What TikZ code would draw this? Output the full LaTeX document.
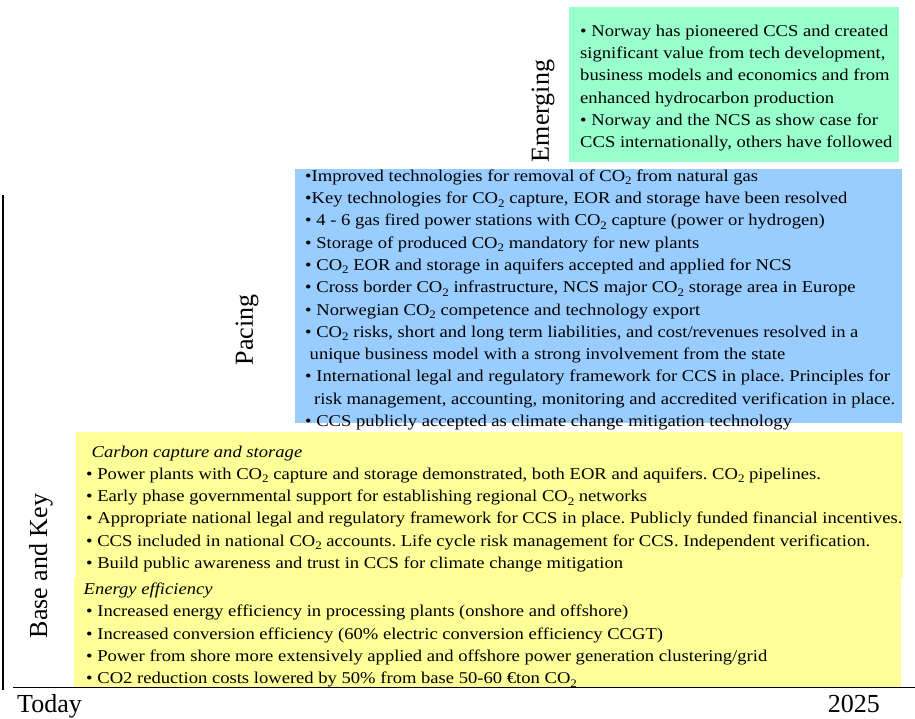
\documentclass[tikz,border=0pt]{standalone}
\usepackage{fontspec}
\setmainfont{Liberation Serif}
\newfontfamily\widserif{Liberation Serif}[FakeStretch=1.127]
\usetikzlibrary{positioning}
\definecolor{emerggreen}{HTML}{99FFCC}
\definecolor{pacingblue}{HTML}{99CCFF}
\definecolor{baseyellow}{HTML}{FFFF99}
\newcommand{\cotwo}{CO\raisebox{-3.5pt}{\fontsize{11.5}{12}\selectfont 2}}
\frenchspacing

\begin{document}
\begin{tikzpicture}[x=1pt, y=-1pt,
    box/.style={anchor=north west, inner sep=0pt, outer sep=0pt},
    bodytext/.style={anchor=north west, inner sep=0pt, align=left,
      font=\widserif\fontsize{16.5}{22.3}\selectfont},
    phase/.style={rotate=90, inner sep=0pt, font=\fontsize{26}{30}\selectfont},
    axislabel/.style={inner sep=0pt, font=\fontsize{26}{30}\selectfont}]
  \useasboundingbox (0,0) rectangle (915,718);

  % coloured boxes
  \node[box, fill=emerggreen, minimum width=330pt, minimum height=155pt] (emergbox) at (569,7) {};
  \node[box, fill=pacingblue, minimum width=607pt, minimum height=254pt] (pacebox) at (295,169) {};
  \node[box, fill=baseyellow, minimum width=827pt, minimum height=146pt] (ccsbox) at (76,432) {};
  \node[box, fill=baseyellow, minimum width=827pt, minimum height=109pt] (effbox) at (74,578) {};

  % emerging
  \node[bodytext] (emergtext) at (580,24.7) {%
    • Norway has pioneered CCS and created\\
    significant value from tech development,\\
    business models and economics and from\\
    enhanced hydrocarbon production\\
    • Norway and the NCS as show case for\\
    CCS internationally, others have followed};

  % pacing
  \node[bodytext] (pacetext) at (305,169.4) {%
    •Improved technologies for removal of \cotwo{} from natural gas\\
    •Key technologies for \cotwo{} capture, EOR and storage have been resolved\\
    • 4 - 6 gas fired power stations with \cotwo{} capture (power or hydrogen)\\
    • Storage of produced \cotwo{} mandatory for new plants\\
    • \cotwo{} EOR and storage in aquifers accepted and applied for NCS\\
    • Cross border \cotwo{} infrastructure, NCS major \cotwo{} storage area in Europe\\
    • Norwegian \cotwo{} competence and technology export\\
    • \cotwo{} risks, short and long term liabilities, and cost/revenues resolved in a\\
    \hspace*{4.5pt}unique business model with a strong involvement from the state\\
    • International legal and regulatory framework for CCS in place. Principles for\\
    \hspace*{9pt}risk management, accounting, monitoring and accredited verification in place.\\
    • CCS publicly accepted as climate change mitigation technology};

  % base and key
  \node[bodytext] (ccstext) at (86,445.4) {%
    \hspace*{5.5pt}\textit{Carbon capture and storage}\\
    • Power plants with \cotwo{} capture and storage demonstrated, both EOR and aquifers. \cotwo{} pipelines.\\
    • Early phase governmental support for establishing regional \cotwo{} networks\\
    • Appropriate national legal and regulatory framework for CCS in place. Publicly funded financial incentives.\\
    • CCS included in national \cotwo{} accounts. Life cycle risk management for CCS. Independent verification.\\
    • Build public awareness and trust in CCS for climate change mitigation};
  \node[bodytext] (efftext) at (83.5,582.7) {%
    \textit{Energy efficiency}\\
    \hspace*{2.5pt}• Increased energy efficiency in processing plants (onshore and offshore)\\
    \hspace*{2.5pt}• Increased conversion efficiency (60\% electric conversion efficiency CCGT)\\
    \hspace*{2.5pt}• Power from shore more extensively applied and offshore power generation clustering/grid\\
    \hspace*{2.5pt}• CO2 reduction costs lowered by 50\% from base 50-60 €ton \cotwo};

  % phase labels
  \node[phase] (emerglabel) at (543,111) {Emerging};
  \node[phase] (pacelabel) at (247,330) {Pacing};
  \node[phase] (baselabel) at (41,566) {Base and Key};

  % time axis
  \coordinate (axtop) at (3,195);
  \coordinate (axbot) at (3,690);
  \coordinate (axleft) at (13,687.5);
  \coordinate (axright) at (915,687.5);
  \draw[line width=1.2pt] (axtop) -- (axbot);
  \draw[line width=1.2pt] (axleft) -- (axright);
  \node[axislabel, anchor=base west] (today) at (17,712) {Today};
  \node[axislabel, anchor=base east] (year) at (880,712) {2025};
\end{tikzpicture}
\end{document}
